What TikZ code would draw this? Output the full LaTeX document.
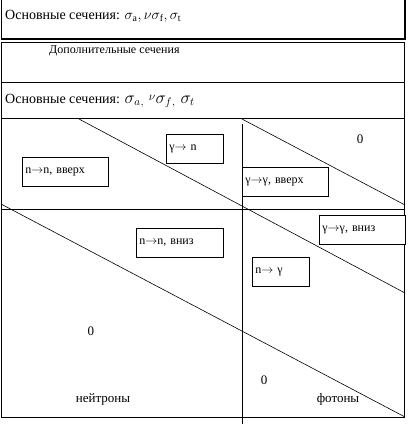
\documentclass[tikz,border=0pt]{standalone}
\usepackage{fontspec}
\setmainfont{Liberation Serif}
\newcommand{\ra}{$\rightarrow$}
\begin{document}
\begin{tikzpicture}[x=1pt,y=-1pt,
  frame/.style={line width=0.8pt},
  diag/.style={line width=0.6pt},
  txt/.style={inner sep=0pt, anchor=west},
  big/.style={font=\fontsize{14}{16}\selectfont},
  lab/.style={font=\fontsize{13}{15}\selectfont},
  lbl/.style={draw, line width=0.8pt, fill=white, anchor=north west, inner xsep=3pt, inner ysep=0pt, align=left},
  font=\fontsize{12}{14}\selectfont]
\useasboundingbox (0,0) rectangle (416,424);
% top box
\draw[frame] (1,0) -- (1,39);
\draw[line width=1.6pt] (1,39) -- (405,39) -- (405,0);
\node[txt, big] (t1) at (5,16) {Основные сечения: $\sigma_{\mathrm{a}},\nu\sigma_{\mathrm{f}},\sigma_{\mathrm{t}}$};
% table
\draw[frame] (1,42) rectangle (404,417);
\draw[frame] (1,82) -- (404,82);
\draw[frame] (1,118) -- (404,118);
\draw[frame] (1,209) -- (404,209);
\draw[frame] (242,124) -- (242,424);
\node[txt] (t2) at (49,51) {Дополнительные сечения};
\node[txt, big] (t3) at (5,101) {Основные сечения: {\fontsize{16}{17}\selectfont$\sigma_a{}_{,}\;\raisebox{2.5pt}{\fontsize{13}{14}\selectfont$\nu$}\sigma_f{}_{,}\;\sigma_t$}};
% diagonals
\draw[diag] (79,119) -- (405,293);
\draw[diag] (242,119) -- (405,205);
\draw[diag] (1,204) -- (405,417);
% boxes
\node[lbl, minimum width=57pt, minimum height=29pt, text width=51pt] (gn) at (166,134) {γ\ra{} n};
\node[lbl, minimum width=86pt, minimum height=29pt, text width=80pt] (nnu) at (22,157) {n\ra n, вверх};
\node[lbl, minimum width=86pt, minimum height=29pt, text width=80pt] (ggu) at (242,167) {γ\ra γ, вверх};
\node[lbl, minimum width=86pt, minimum height=29pt, text width=80pt] (ggd) at (319,215) {γ\ra γ, вниз};
\node[lbl, minimum width=87pt, minimum height=29pt, text width=81pt] (nnd) at (136,228) {n\ra n, вниз};
\node[lbl, minimum width=57pt, minimum height=29pt, text width=51pt] (ng) at (252,257) {n\ra{} γ};
% zeros and labels
\node[lab] (z1) at (360,139) {0};
\node[lab] (z2) at (91,331) {0};
\node[lab] (z3) at (264,380) {0};
\node[lab] (neu) at (103,399) {нейтроны};
\node[lab] (pho) at (338,399) {фотоны};
\end{tikzpicture}
\end{document}
